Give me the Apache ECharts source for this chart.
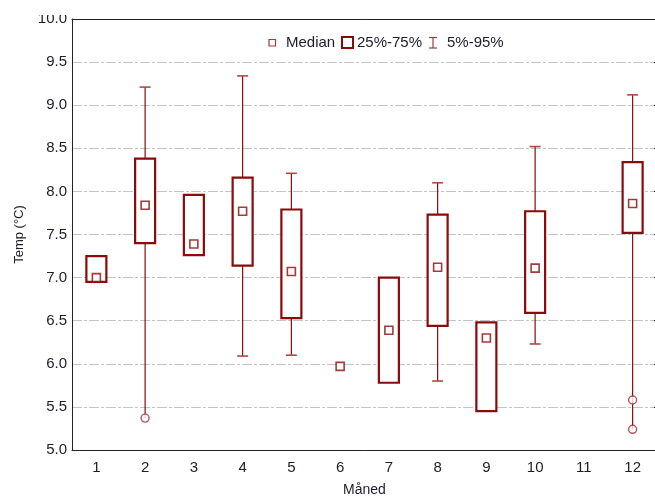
<!DOCTYPE html>
<html>
<head>
<meta charset="utf-8">
<script src="https://cdn.jsdelivr.net/npm/echarts@6/dist/echarts.min.js"></script>
<style>
html, body { margin: 0; padding: 0; background: #fff; }
#main { width: 655px; height: 498px; }
</style>
</head>
<body>
<div id="main"></div>
<script>
// måneder og verdier lest av figuren
var months = ['1', '2', '3', '4', '5', '6', '7', '8', '9', '10', '11', '12'];
var q1 = [6.95, 7.40, 7.26, 7.14, 6.53, null, 5.78, 6.44, 5.45, 6.59, null, 7.52];
var q3 = [7.25, 8.38, 7.96, 8.16, 7.79, null, 7.00, 7.73, 6.48, 7.77, null, 8.34];
var median = [7.00, 7.84, 7.39, 7.77, 7.07, 5.97, 6.39, 7.12, 6.30, 7.11, null, 7.86];
var p5 = [null, null, null, 6.09, 6.10, null, null, 5.80, null, 6.23, null, null];
var p95 = [null, 9.21, null, 9.34, 8.21, null, null, 8.10, null, 8.52, null, 9.12];
var outMonth = [2, 12, 12];
var outVal = [5.37, 5.58, 5.24];

var red = '#8b0a0a';
var font = 'Liberation Sans';

var chart = echarts.init(document.getElementById('main'));

function lowEnd(i) {
  if (p5[i] != null) return p5[i];
  var lo = null;
  for (var k = 0; k < outMonth.length; k++) {
    if (outMonth[k] - 1 == i && (lo == null || outVal[k] < lo)) lo = outVal[k];
  }
  return lo;
}

function renderBox(params, api) {
  var i = params.dataIndex;
  var x = api.coord([i, 0])[0];
  var bw = 20, cw = 11;
  var kids = [];
  if (q3[i] != null && p95[i] != null) {
    var a = api.coord([i, q3[i]])[1], b = api.coord([i, p95[i]])[1];
    kids.push({type: 'line', shape: {x1: x, y1: a, x2: x, y2: b}, style: {stroke: red, lineWidth: 1.2}});
    kids.push({type: 'line', shape: {x1: x - cw / 2, y1: b, x2: x + cw / 2, y2: b}, style: {stroke: '#b04848', lineWidth: 1.6}});
  }
  var lo = lowEnd(i);
  if (q1[i] != null && lo != null) {
    var c = api.coord([i, q1[i]])[1], d = api.coord([i, lo])[1];
    kids.push({type: 'line', shape: {x1: x, y1: c, x2: x, y2: d}, style: {stroke: red, lineWidth: 1.2}});
    if (p5[i] != null) {
      kids.push({type: 'line', shape: {x1: x - cw / 2, y1: d, x2: x + cw / 2, y2: d}, style: {stroke: '#b04848', lineWidth: 1.6}});
    }
  }
  if (q1[i] != null && q3[i] != null) {
    var t = api.coord([i, q3[i]])[1], bt = api.coord([i, q1[i]])[1];
    kids.push({type: 'rect', shape: {x: x - bw / 2, y: t, width: bw, height: bt - t},
      style: {fill: '#fff', stroke: red, lineWidth: 2.2}});
  }
  return {type: 'group', children: kids};
}

var gridStyle = {color: '#c4c4c4', width: 1, type: [10, 2, 3, 2]};

var option = {
  animation: false,
  backgroundColor: '#fff',
  textStyle: {fontFamily: font},
  grid: {left: 72, right: -2, top: 19, bottom: 48, outerBoundsMode: 'none', containLabel: false},
  xAxis: [{
    type: 'category',
    data: months,
    position: 'bottom',
    name: 'Måned',
    nameLocation: 'middle',
    nameGap: 33,
    nameTextStyle: {fontSize: 14, color: '#1c1c2c', fontFamily: font},
    axisLine: {lineStyle: {color: '#222', width: 1}},
    axisTick: {inside: true, length: 4, alignWithLabel: true, lineStyle: {color: '#222'}},
    axisLabel: {fontSize: 15, color: '#1c1c2c', margin: 10, fontFamily: font},
    splitLine: {show: false}
  }, {
    type: 'category',
    data: months,
    position: 'top',
    axisLine: {lineStyle: {color: '#222', width: 1}},
    axisTick: {inside: true, length: 4, alignWithLabel: true, lineStyle: {color: '#222'}},
    axisLabel: {show: false},
    splitLine: {show: false}
  }],
  yAxis: [{
    type: 'value',
    min: 5, max: 10, interval: 0.5,
    name: 'Temp (°C)',
    nameLocation: 'middle',
    nameGap: 46,
    nameRotate: 90,
    nameTextStyle: {fontSize: 13, color: '#1c1c2c', fontFamily: font},
    axisLine: {show: true, lineStyle: {color: '#222', width: 1}},
    axisTick: {show: false},
    axisLabel: {fontSize: 15, color: '#1c1c2c', margin: 5, fontFamily: font,
      formatter: function (v) { return v.toFixed(1); }},
    splitLine: {show: true, lineStyle: gridStyle}
  }, {
    type: 'value',
    min: 5, max: 10, interval: 0.5,
    position: 'right',
    axisLine: {show: true, lineStyle: {color: '#222', width: 1}},
    axisTick: {show: true, inside: true, length: 3, lineStyle: {color: '#222'}},
    axisLabel: {show: false},
    splitLine: {show: false}
  }],
  series: [{
    type: 'custom',
    renderItem: renderBox,
    data: months.map(function (m, i) { return [i]; }),
    z: 2
  }, {
    type: 'scatter',
    symbol: 'rect',
    symbolSize: 8,
    itemStyle: {color: '#fff', borderColor: red, borderWidth: 1.6},
    data: median.map(function (v, i) { return v == null ? [i, '-'] : [i, v]; }),
    z: 4
  }, {
    type: 'scatter',
    symbol: 'circle',
    symbolSize: 8,
    itemStyle: {color: '#fff', borderColor: '#a03030', borderWidth: 1.4},
    data: outVal.map(function (v, k) { return [outMonth[k] - 1, v]; }),
    z: 4
  }],
  graphic: [
    // litt av toppen av 10.0 er kuttet i originalen
    {type: 'rect', left: 30, top: 0, shape: {width: 40, height: 15}, style: {fill: '#fff'}, z: 100},
    {type: 'rect', shape: {x: 269, y: 39.5, width: 6.5, height: 6.5}, style: {fill: '#fff', stroke: '#a03a3a', lineWidth: 1.2}, z: 10},
    {type: 'text', x: 286, y: 43, style: {text: 'Median', font: '15px "Liberation Sans"', fill: '#1c1c2c', textVerticalAlign: 'middle'}, z: 10},
    {type: 'rect', shape: {x: 342, y: 37, width: 11, height: 11}, style: {fill: '#fff', stroke: red, lineWidth: 2}, z: 10},
    {type: 'text', x: 357, y: 43, style: {text: '25%-75%', font: '15px "Liberation Sans"', fill: '#1c1c2c', textVerticalAlign: 'middle'}, z: 10},
    {type: 'polyline', shape: {points: [[429, 37.5], [437, 37.5]]}, style: {stroke: '#a03a3a', lineWidth: 1.2}, z: 10},
    {type: 'polyline', shape: {points: [[433, 37.5], [433, 48]]}, style: {stroke: '#a03a3a', lineWidth: 1.2}, z: 10},
    {type: 'polyline', shape: {points: [[429, 48], [437, 48]]}, style: {stroke: '#a03a3a', lineWidth: 1.2}, z: 10},
    {type: 'text', x: 447, y: 43, style: {text: '5%-95%', font: '15px "Liberation Sans"', fill: '#1c1c2c', textVerticalAlign: 'middle'}, z: 10}
  ]
};

chart.setOption(option);
</script>
</body>
</html>
